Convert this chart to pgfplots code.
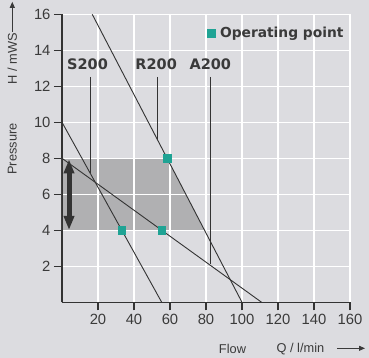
\documentclass[border=0pt]{standalone}
\usepackage{fontspec}
\setmainfont{Liberation Sans}
\newfontfamily\dvs{DejaVu Sans}
\usepackage{pgfplots}
\pgfplotsset{compat=1.18}
\usetikzlibrary{arrows.meta}
\definecolor{bg}{HTML}{DCDCE0}
\definecolor{shade}{HTML}{B0B0B2}
\definecolor{dark}{HTML}{333333}
\definecolor{txt}{HTML}{3A3A3A}
\definecolor{teal}{HTML}{1FA394}
\begin{document}
\begin{tikzpicture}
\fill[bg] (-62pt,-55.7pt) rectangle (307pt,302.3pt);
\begin{axis}[
  at={(0pt,0pt)}, anchor=south west,
  scale only axis, width=288pt, height=288pt,
  xmin=0, xmax=160, ymin=0, ymax=16,
  axis x line*=bottom, axis y line*=left,
  axis line style={dark, line width=1.1pt},
  xtick={20,40,...,160}, ytick={2,4,...,16},
  grid=major, grid style={white, line width=1.5pt},
  tick align=outside, major tick length=8pt,
  tick style={dark, line width=1.1pt},
  /pgf/number format/assume math mode=true,
  ticklabel style={font=\fontsize{14.8}{16}\selectfont, text=txt},
  legend style={draw=none, fill=none, at={(0.504,0.935)}, anchor=west,
    inner sep=0pt, font=\dvs\bfseries\fontsize{13.8}{16}\selectfont, text=txt,
    /tikz/every odd column/.append style={column sep=3pt}},
  legend image code/.code={\draw[#1] plot coordinates {(3.85pt,0pt)};},
]
\addplot[fill=shade, draw=none, forget plot]
  coordinates {(0,4) (0,8) (58.4,8) (79.2,4) (0,4)};
% grid lines over the shaded band
\addplot[white, line width=1.5pt, forget plot] coordinates {(20,4) (20,8)};
\addplot[white, line width=1.5pt, forget plot] coordinates {(40,4) (40,8)};
\addplot[white, line width=1.5pt, forget plot] coordinates {(60,4) (60,7.69)};
\addplot[white, line width=1.5pt, forget plot] coordinates {(0,4) (80,4)};
\addplot[white, line width=1.5pt, forget plot] coordinates {(0,6) (68.8,6)};
\addplot[white, line width=1.5pt, forget plot] coordinates {(0,8) (60,8)};
\addplot[dark, line width=0.9pt, forget plot] coordinates {(16.8,16) (100,0)};
\addplot[dark, line width=0.9pt, forget plot] coordinates {(0,10) (55.4,0)};
\addplot[dark, line width=0.9pt, forget plot] coordinates {(0,8) (110.9,0)};
% pointer lines
\addplot[dark, line width=0.9pt, forget plot] coordinates {(15.7,12.52) (15.7,7.17)};
\addplot[dark, line width=0.9pt, forget plot] coordinates {(52.9,12.52) (52.9,9.02)};
\addplot[dark, line width=0.9pt, forget plot] coordinates {(82.4,12.52) (82.4,2.13)};
% range arrow
\addplot[dark, line width=5pt, {Triangle[width=10pt,length=14pt]}-{Triangle[width=10pt,length=14pt]}, forget plot]
  coordinates {(3.9,7.94) (3.9,4.02)};
% left axis line redrawn over the band
\addplot[dark, line width=1.1pt, forget plot] coordinates {(0,3.5) (0,8.5)};
% operating points
\addplot[only marks, mark=square*, mark size=3.85pt, color=teal, mark options={draw=none, fill=teal}]
  coordinates {(58.4,8) (33.2,4) (55.4,4)};
\addlegendentry{Operating point}
\node[font=\dvs\bfseries\fontsize{14.5}{16}\selectfont, text=txt] at (axis cs:14.2,13.24) {S200};
\node[font=\dvs\bfseries\fontsize{14.5}{16}\selectfont, text=txt] at (axis cs:52.3,13.24) {R200};
\node[font=\dvs\bfseries\fontsize{14.5}{16}\selectfont, text=txt] at (axis cs:82.4,13.24) {A200};
\end{axis}
\node[rotate=90, font=\fontsize{12.8}{14}\selectfont, text=txt] at (-49.7pt,153.3pt) {Pressure};
\node[rotate=90, font=\fontsize{12.8}{14}\selectfont, text=txt] at (-49.7pt,243.8pt) {H / mWS};
\draw[txt, line width=0.8pt, -{Triangle[width=5pt,length=6pt]}] (-49.7pt,270.5pt) -- (-49.7pt,300.5pt);
\node[font=\fontsize{12.8}{14}\selectfont, text=txt] at (170.5pt,-46.7pt) {Flow};
\node[font=\fontsize{12.8}{14}\selectfont, text=txt] at (238.4pt,-46.7pt) {Q / l/min};
\draw[txt, line width=0.8pt, -{Triangle[width=5pt,length=6pt]}] (275pt,-46pt) -- (303pt,-46pt);
\pgfresetboundingbox
\path[use as bounding box] (-62pt,-55.7pt) rectangle (307pt,302.3pt);
\end{tikzpicture}
\end{document}
